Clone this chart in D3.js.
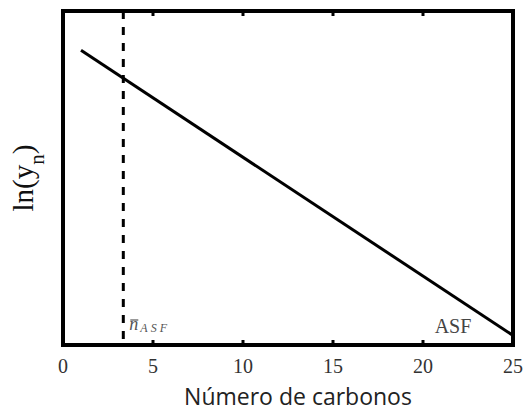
<!doctype html>
<html>
<head>
	<meta charset="utf-8">
	<title>ln(yn) vs Número de carbonos</title>
	<script src="https://d3js.org/d3.v7.min.js"></script>
	<style>
		body { margin: 0; background: #fff; }
	</style>
</head>
<body>
	<script>
		// data
		var carbonNumbers = [1, 25];
		var lnYValues = [-3.3, -27.2];
		var nAsf = 3.35;
		var xTicks = [0, 5, 10, 15, 20, 25];
		var xDomain = [0, 25];
		var yDomain = [-28, 0];

		var width = 525, height = 412;
		var plotLeft = 63, plotRight = 513, plotTop = 11, plotBottom = 345;

		var x = d3.scaleLinear().domain(xDomain).range([plotLeft, plotRight]);
		var y = d3.scaleLinear().domain(yDomain).range([plotBottom, plotTop]);

		var svg = d3.select("body").append("svg")
			.attr("width", width)
			.attr("height", height);

		// inner ticks, bottom and top
		var tickG = svg.append("g");
		tickG.selectAll("line.b").data(xTicks.slice(1, -1)).enter()
			.append("line")
			.attr("x1", function(d) { return x(d); })
			.attr("x2", function(d) { return x(d); })
			.attr("y1", plotBottom).attr("y2", plotBottom - 5)
			.attr("stroke", "#000").attr("stroke-width", 3);
		tickG.selectAll("line.t").data(xTicks.slice(1, -1)).enter()
			.append("line")
			.attr("x1", function(d) { return x(d); })
			.attr("x2", function(d) { return x(d); })
			.attr("y1", plotTop).attr("y2", plotTop + 5)
			.attr("stroke", "#000").attr("stroke-width", 3);

		// tick labels
		svg.append("g").selectAll("text").data(xTicks).enter()
			.append("text")
			.attr("x", function(d) { return x(d); })
			.attr("y", 373)
			.attr("text-anchor", "middle")
			.attr("font-family", "Liberation Serif, serif")
			.attr("font-size", 20)
			.attr("fill", "#333")
			.text(function(d) { return d; });

		// dashed n_ASF line
		svg.append("line")
			.attr("x1", x(nAsf)).attr("x2", x(nAsf))
			.attr("y1", plotTop).attr("y2", plotBottom)
			.attr("stroke", "#000")
			.attr("stroke-width", 3)
			.attr("stroke-dasharray", "8,8");

		// ASF line
		var line = d3.line()
			.x(function(d) { return x(d[0]); })
			.y(function(d) { return y(d[1]); });
		svg.append("path")
			.datum(d3.zip(carbonNumbers, lnYValues))
			.attr("d", line)
			.attr("fill", "none")
			.attr("stroke", "#000")
			.attr("stroke-width", 3);

		// frame
		svg.append("rect")
			.attr("x", plotLeft).attr("y", plotTop)
			.attr("width", plotRight - plotLeft).attr("height", plotBottom - plotTop)
			.attr("fill", "none")
			.attr("stroke", "#000")
			.attr("stroke-width", 4);

		// annotations: n-bar with subscript ASF
		var nText = svg.append("text")
			.attr("x", x(nAsf) + 6).attr("y", 330)
			.attr("font-family", "Liberation Serif, serif")
			.attr("font-style", "italic")
			.attr("font-size", 18)
			.attr("fill", "#555")
			.text("n");
		var nBox = nText.node().getBBox();
		svg.append("line")
			.attr("x1", nBox.x + 1).attr("x2", nBox.x + nBox.width)
			.attr("y1", 320).attr("y2", 320)
			.attr("stroke", "#555").attr("stroke-width", 1.2);
		svg.append("text")
			.attr("x", nBox.x + nBox.width + 2).attr("y", 332)
			.attr("font-family", "Liberation Serif, serif")
			.attr("font-style", "italic")
			.attr("font-size", 12)
			.attr("letter-spacing", 3)
			.attr("fill", "#555")
			.text("ASF");

		svg.append("text")
			.attr("x", 453).attr("y", 333)
			.attr("text-anchor", "middle")
			.attr("font-family", "Liberation Serif, serif")
			.attr("font-size", 20)
			.attr("fill", "#444")
			.text("ASF");

		// axis titles
		svg.append("text")
			.attr("x", 298).attr("y", 405)
			.attr("text-anchor", "middle")
			.attr("font-family", "Open Sans, sans-serif")
			.attr("font-size", 23)
			.attr("fill", "#222")
			.text("Número de carbonos");

		var yLab = svg.append("text")
			.attr("transform", "translate(33,178) rotate(-90)")
			.attr("text-anchor", "middle")
			.attr("font-family", "Liberation Serif, serif")
			.attr("font-size", 29)
			.attr("fill", "#111");
		yLab.append("tspan").text("ln(y");
		yLab.append("tspan").attr("font-size", 21).attr("dy", 11).text("n");
		yLab.append("tspan").attr("dy", -11).text(")");
	</script>
</body>
</html>
